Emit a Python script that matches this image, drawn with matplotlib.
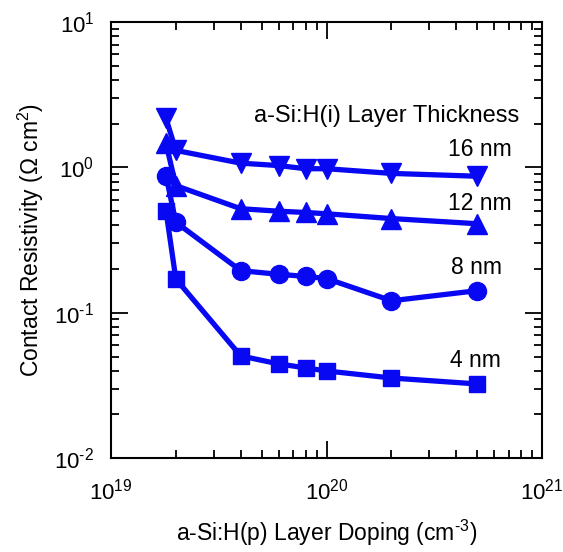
import numpy as np
import matplotlib
matplotlib.use("Agg")
import matplotlib.pyplot as plt
from matplotlib.ticker import FuncFormatter

plt.rcParams['font.family'] = ['Liberation Sans', 'DejaVu Sans']
plt.rcParams['mathtext.fontset'] = 'custom'
plt.rcParams['mathtext.rm'] = 'Liberation Sans'
plt.rcParams['mathtext.it'] = 'Liberation Sans'
plt.rcParams['mathtext.default'] = 'regular'

# doping (cm^-3)
doping = [1.8e19, 2.0e19, 4e19, 6e19, 8e19, 1e20, 2e20, 5e20]

# contact resistivity (ohm cm^2) per i-layer thickness
rho_16nm = [2.18, 1.31, 1.07, 1.03, 0.98, 0.98, 0.91, 0.87]
rho_12nm = [1.47, 0.75, 0.52, 0.50, 0.49, 0.48, 0.445, 0.41]
rho_8nm = [0.88, 0.42, 0.195, 0.184, 0.178, 0.172, 0.121, 0.142]
rho_4nm = [0.505, 0.171, 0.0505, 0.0445, 0.0418, 0.0398, 0.0356, 0.0324]

labels = ['16 nm', '12 nm', '8 nm', '4 nm']
markers = ['v', '^', 'o', 's']
blue = '#0808f2'

fig = plt.figure(figsize=(5.63, 5.52), dpi=100)
ax = fig.add_axes([0.197, 0.170, 0.766, 0.790])

for rho, m in zip([rho_16nm, rho_12nm, rho_8nm, rho_4nm], markers):
    ms = 14 if m in ('v', '^') else 13
    if m == 's':
        ms = 12
    ax.plot(doping, rho, color=blue, lw=3.8, marker=m, ms=ms, mec=blue, mfc=blue)

ax.set_xscale('log')
ax.set_yscale('log')
ax.set_xlim(1e19, 1e21)
ax.set_ylim(1e-2, 1e1)

# powers of ten with a plain hyphen, like the original
pow10 = FuncFormatter(lambda v, p: r'$10^{\text{%d}}$' % round(np.log10(v)))
ax.xaxis.set_major_formatter(pow10)
ax.yaxis.set_major_formatter(pow10)

for s in ax.spines.values():
    s.set_linewidth(1.5)
ax.tick_params(which='both', direction='in', top=True, right=True, width=1.3, labelsize=16)
ax.tick_params(which='major', length=12)
ax.tick_params(which='minor', length=6)
ax.tick_params(axis='x', pad=15)
ax.tick_params(axis='y', pad=12)

ax.set_xlabel(r'a-Si:H(p) Layer Doping (cm$^{\text{-3}}$)', fontsize=16.5, labelpad=9)
ax.set_ylabel('Contact Resistivity (\u03a9 cm$^{2}$)', fontsize=16.5, labelpad=6)

ax.text(0.947, 0.784, 'a-Si:H(i) Layer Thickness', transform=ax.transAxes,
        ha='right', va='center', fontsize=17)
txt_pos = [(0.930, 0.708), (0.930, 0.585), (0.908, 0.438), (0.905, 0.224)]
for lab, (tx, ty) in zip(labels, txt_pos):
    ax.text(tx, ty, lab, transform=ax.transAxes, ha='right', va='center', fontsize=16.5)

fig.savefig('out.png', dpi=100)
